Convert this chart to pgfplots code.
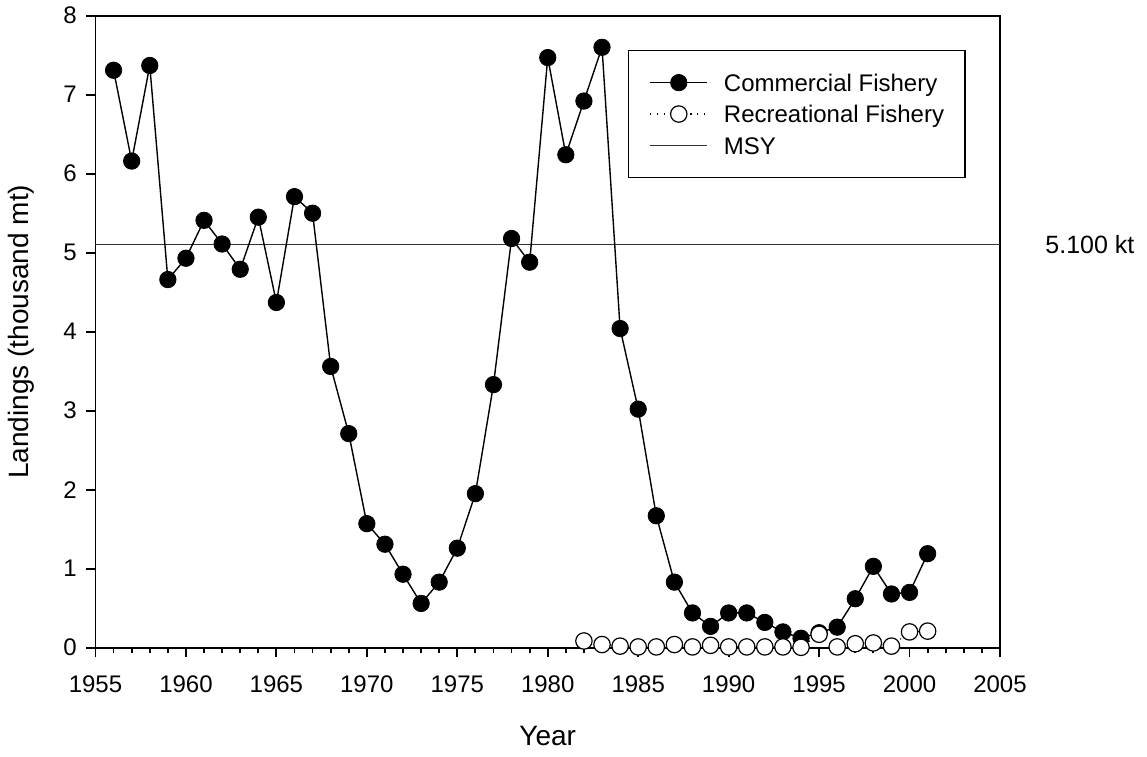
\documentclass[border=0pt]{standalone}
\usepackage{fontspec}
\setmainfont{Liberation Sans}
\usepackage{pgfplots}
\usepackage{pgfplotstable}
\pgfplotsset{compat=1.18}
\pgfplotstableread{
year val
1956 7.31
1957 6.16
1958 7.37
1959 4.66
1960 4.93
1961 5.41
1962 5.11
1963 4.79
1964 5.45
1965 4.37
1966 5.71
1967 5.50
1968 3.56
1969 2.71
1970 1.57
1971 1.31
1972 0.93
1973 0.56
1974 0.83
1975 1.26
1976 1.95
1977 3.33
1978 5.18
1979 4.88
1980 7.47
1981 6.24
1982 6.92
1983 7.60
1984 4.04
1985 3.02
1986 1.67
1987 0.83
1988 0.44
1989 0.27
1990 0.44
1991 0.44
1992 0.32
1993 0.20
1994 0.12
1995 0.19
1996 0.26
1997 0.62
1998 1.03
1999 0.68
2000 0.70
2001 1.19
}\commercial
\pgfplotstableread{
year val
1982 0.085
1983 0.04
1984 0.02
1985 0.01
1986 0.01
1987 0.04
1988 0.01
1989 0.03
1990 0.01
1991 0.01
1992 0.01
1993 0.01
1994 0.005
1995 0.17
1996 0.01
1997 0.05
1998 0.06
1999 0.02
2000 0.20
2001 0.21
}\recreational
\begin{document}
\begin{tikzpicture}
\path[use as bounding box] (-47.75pt,-54.15pt) rectangle (525.75pt,323.85pt);
\begin{axis}[
  at={(0pt,0pt)}, anchor=south west,
  scale only axis, width=452.25pt, height=316pt,
  xmin=1955, xmax=2005, ymin=0, ymax=8,
  xtick={1955,1960,...,2005}, ytick={0,1,...,8},
  minor x tick num=4,
  tick pos=left,
  tick align=outside,
  major tick length=4.7pt, minor tick length=2.8pt,
  axis line style={line width=0.9pt},
  every tick/.style={black, line width=0.9pt},
  clip=false,
  /pgf/number format/assume math mode=true,
  /pgf/number format/1000 sep={},
  xticklabel style={font=\fontsize{12}{14}\selectfont, anchor=base, inner sep=0pt, yshift=-17.45pt},
  yticklabel style={font=\fontsize{12}{14}\selectfont, anchor=east, inner sep=0pt, xshift=-4.55pt},
  xlabel={Year},
  ylabel={Landings (thousand mt)},
  xlabel style={font=\fontsize{14}{17}\selectfont, at={(axis description cs:0.5,-0.1397)}, anchor=center},
  ylabel style={font=\fontsize{14}{17}\selectfont, at={(axis description cs:-0.0818,0.5)}, anchor=center},
  legend image code/.code={\draw[mark repeat=2,mark phase=2,#1] plot coordinates {(0pt,0pt) (14.25pt,0pt) (28.5pt,0pt)};},
  legend style={at={(0.5887,0.9457)}, anchor=north west, draw=black, line width=0.6pt, fill=white,
    inner xsep=10.5pt, inner ysep=10pt, row sep=3.7pt, column sep=8pt,
    font=\fontsize{12}{14}\selectfont,
    nodes={inner sep=0pt, text height=10.3pt, text depth=1.7pt}},
  legend cell align=left,
]
\addplot[black!80, line width=0.5pt, forget plot] coordinates {(1955,5.1) (2005,5.1)};
\addplot[black, line width=0.7pt, mark=*, mark size=4.1pt, mark options={solid, fill=black, line width=0.4pt}] table[x=year, y=val] {\commercial};
\addlegendentry{Commercial Fishery}
\addplot[black, line width=0.55pt, dash pattern=on 0.55pt off 2.8pt, mark=*, mark size=4.1pt, mark options={solid, fill=white, line width=0.6pt}] table[x=year, y=val] {\recreational};
\addlegendentry{Recreational Fishery}
\addlegendimage{black!80, line width=0.5pt}
\addlegendentry{MSY}
\node[anchor=base west, inner sep=0pt, font=\fontsize{12.5}{15}\selectfont] at (axis cs:2005,5.1) [xshift=22.5pt, yshift=-4.4pt] {5.100 kt};
\end{axis}
\end{tikzpicture}
\end{document}
